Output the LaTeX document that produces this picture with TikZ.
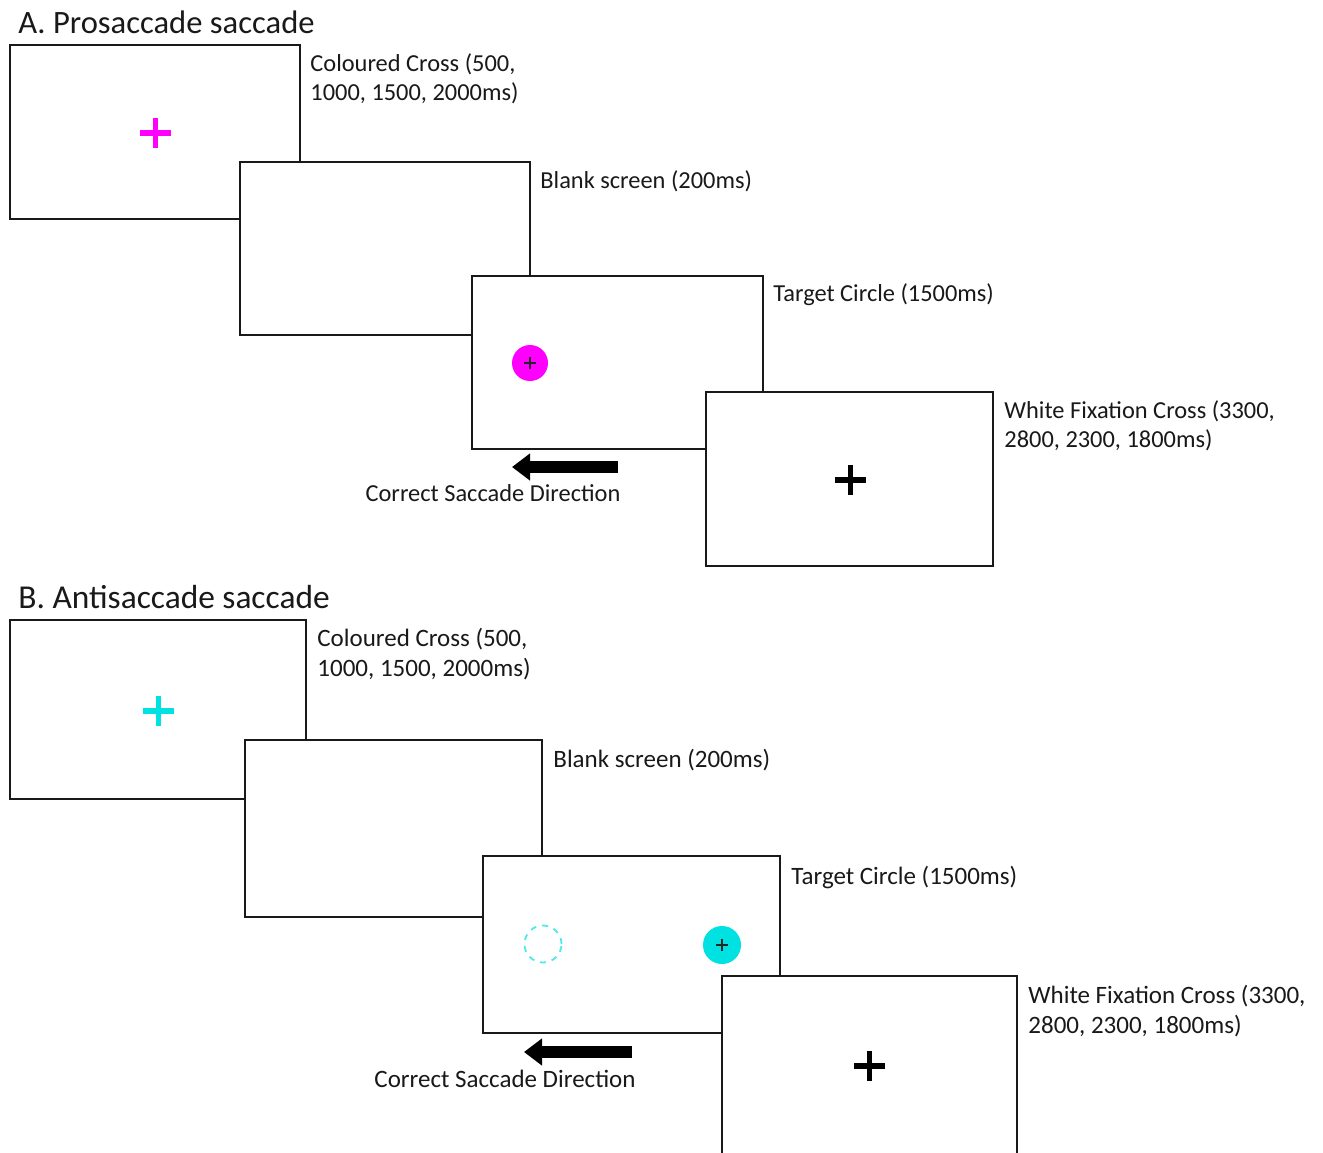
\documentclass[tikz,border=0pt]{standalone}
\usepackage{fontspec}
\setmainfont{Carlito}
\usetikzlibrary{arrows.meta}
\definecolor{mag}{RGB}{255,0,255}
\definecolor{cyn}{RGB}{0,225,225}
\begin{document}
\begin{tikzpicture}[x=0.5pt,y=-0.5pt,
  screen/.style={draw=black!90, line width=1.4pt, fill=white, inner sep=0pt},
  lbl/.style={anchor=west, align=left, inner sep=0pt, font=\fontsize{12.2}{14.5}\selectfont, text=black!90},
  lblb/.style={lbl, font=\fontsize{12.5}{15}\selectfont},
  ttl/.style={anchor=west, inner sep=0pt, font=\fontsize{16.3}{19}\selectfont, text=black!90},
  ttlb/.style={ttl, font=\fontsize{16.7}{19}\selectfont},
  bigcross/.style={line width=2.8pt},
  smallcross/.style={line width=0.6pt, black!85},
  sacarrow/.style={-{Triangle[length=9pt,width=13pt]}, line width=6pt}
]
\useasboundingbox (0,0) rectangle (1323,1152);
\clip (0,0) rectangle (1323,1152);
\fill[white] (0,0) rectangle (1323,1152);

% ---------- Panel A ----------
\node[ttl] (ta) at (18,22) {A. Prosaccade saccade};
\node[screen, minimum width=145pt, minimum height=87pt] (a1) at (155,132) {};
\node[screen, minimum width=145pt, minimum height=86.5pt] (a2) at (385,248.5) {};
\node[screen, minimum width=145.5pt, minimum height=86.5pt] (a3) at (617.5,362.5) {};
\node[screen, minimum width=143.5pt, minimum height=87pt] (a4) at (849.5,479) {};

\draw[bigcross, mag] (140,133) -- (171,133) (155.5,118) -- (155.5,148);
\node[circle, fill=mag, minimum size=18pt, inner sep=0pt] (ac) at (530,363) {};
\draw[smallcross] ([xshift=-3pt]ac.center) -- ([xshift=3pt]ac.center)
                  ([yshift=-3pt]ac.center) -- ([yshift=3pt]ac.center);
\draw[bigcross, black] (835,480) -- (866,480) (850.5,465) -- (850.5,495);

\coordinate (aas) at (618,467);
\coordinate (aae) at (512,467);
\draw[sacarrow] (aas) -- (aae);
\node[lbl, anchor=center] (ad) at (493,493) {Correct Saccade Direction};

\node[lbl] (l1) at (310,78.5) {Coloured Cross (500,\\1000, 1500, 2000ms)};
\node[lbl] (l2) at (540,181) {Blank screen (200ms)};
\node[lbl] (l3) at (773,295) {Target Circle (1500ms)};
\node[lbl] (l4) at (1004,426) {White Fixation Cross (3300,\\2800, 2300, 1800ms)};

% ---------- Panel B ----------
\node[ttlb] (tb) at (18,597) {B. Antisaccade saccade};
\node[screen, minimum width=148pt, minimum height=89.5pt] (b1) at (158,709.5) {};
\node[screen, minimum width=148.5pt, minimum height=88.5pt] (b2) at (393.5,828.5) {};
\node[screen, minimum width=148.5pt, minimum height=88.5pt] (b3) at (631.5,944.5) {};
\node[screen, minimum width=147.5pt, minimum height=92pt] (b4) at (869.5,1068) {};

\draw[bigcross, cyn] (143,711) -- (174,711) (158.5,696) -- (158.5,726);
\node[circle, draw=cyn!70, dashed, line width=0.9pt, minimum size=18.5pt, inner sep=0pt] (bd) at (543,944) {};
\node[circle, fill=cyn, minimum size=19pt, inner sep=0pt] (bc) at (722,945) {};
\draw[smallcross] ([xshift=-3pt]bc.center) -- ([xshift=3pt]bc.center)
                  ([yshift=-3pt]bc.center) -- ([yshift=3pt]bc.center);
\draw[bigcross, black] (854,1066) -- (885,1066) (869.5,1051) -- (869.5,1081);

\coordinate (bas) at (632,1052);
\coordinate (bae) at (524,1052);
\draw[sacarrow] (bas) -- (bae);
\node[lblb, anchor=center] (bdir) at (505,1079) {Correct Saccade Direction};

\node[lblb] (m1) at (317,654.5) {Coloured Cross (500,\\1000, 1500, 2000ms)};
\node[lblb] (m2) at (553,760) {Blank screen (200ms)};
\node[lblb] (m3) at (791,877) {Target Circle (1500ms)};
\node[lblb] (m4) at (1028,1011) {White Fixation Cross (3300,\\2800, 2300, 1800ms)};
\end{tikzpicture}
\end{document}
